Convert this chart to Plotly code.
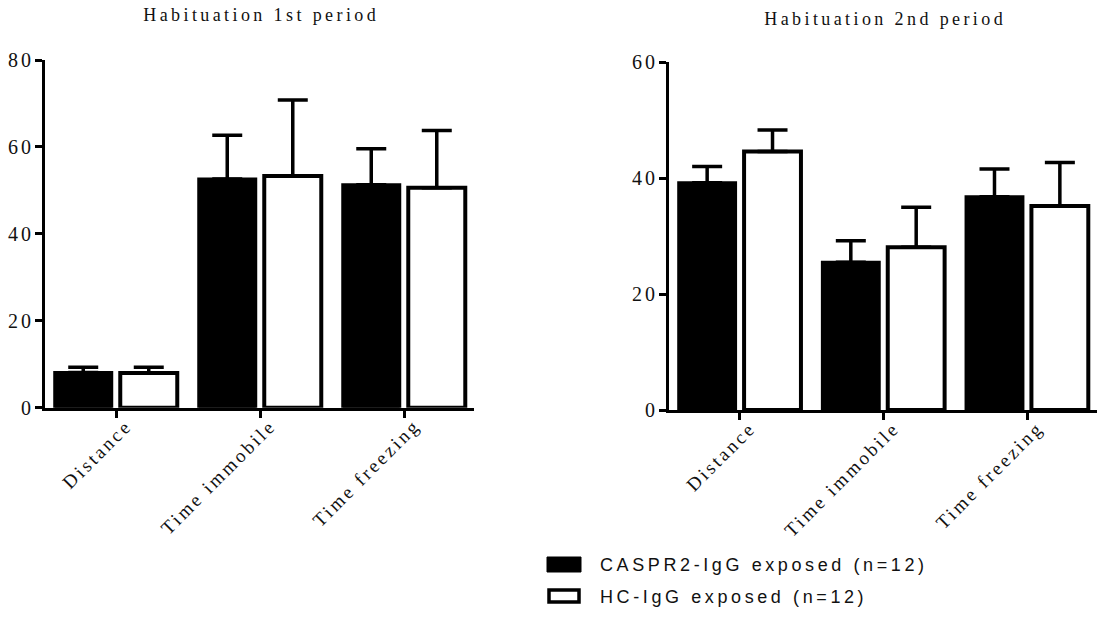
import plotly.graph_objects as go

categories = ["Distance", "Time immobile", "Time freezing"]

# Habituation 1st period
p1_caspr_mean = [8.1, 52.6, 51.3]
p1_caspr_sem = [1.2, 10.1, 8.3]
p1_hc_mean = [8.0, 53.3, 50.6]
p1_hc_sem = [1.3, 17.5, 13.2]

# Habituation 2nd period
p2_caspr_mean = [39.2, 25.5, 36.8]
p2_caspr_sem = [2.8, 3.7, 4.8]
p2_hc_mean = [44.6, 28.1, 35.2]
p2_hc_sem = [3.7, 6.9, 7.5]

series_names = ["CASPR2-IgG exposed (n=12)", "HC-IgG exposed (n=12)"]
titles = ["Habituation 1st period", "Habituation 2nd period"]
y1_ticks = [0, 20, 40, 60, 80]
y2_ticks = [0, 20, 40, 60]

W, H = 1102, 617
fig = go.Figure()

def add_pair(xa, ya, cm, cs, hm, hs):
    fig.add_trace(go.Bar(
        x=categories, y=cm, xaxis=xa, yaxis=ya, name=series_names[0],
        marker=dict(color="black", line=dict(color="black", width=3)),
        error_y=dict(type="data", symmetric=False, array=cs, arrayminus=[0] * len(cs),
                     color="black", thickness=3.5, width=15),
        showlegend=False))
    fig.add_trace(go.Bar(
        x=categories, y=hm, xaxis=xa, yaxis=ya, name=series_names[1],
        marker=dict(color="white", line=dict(color="black", width=4)),
        error_y=dict(type="data", symmetric=False, array=hs, arrayminus=[0] * len(hs),
                     color="black", thickness=3.5, width=15),
        showlegend=False))

add_pair("x", "y", p1_caspr_mean, p1_caspr_sem, p1_hc_mean, p1_hc_sem)
add_pair("x2", "y2", p2_caspr_mean, p2_caspr_sem, p2_hc_mean, p2_hc_sem)

serif = "Liberation Serif"
ytickfont = dict(family=serif, size=20, color="#111111")
xtickfont = dict(family=serif, size=19, color="#111111")
xcommon = dict(type="category", range=[-0.493, 2.486], showline=True, linecolor="black",
               linewidth=3, ticks="outside", ticklen=7, tickwidth=3, tickcolor="black",
               tickangle=-45, tickfont=xtickfont, showgrid=False, zeroline=False,
               fixedrange=True, automargin=False)
ycommon = dict(showline=True, linecolor="black", linewidth=3, ticks="outside", ticklen=7,
               tickwidth=3, tickcolor="black", tickfont=ytickfont, showgrid=False,
               zeroline=False, fixedrange=True, automargin=False)

fig.update_layout(
    width=W, height=H, autosize=False,
    margin=dict(l=0, r=0, t=0, b=0, pad=0),
    paper_bgcolor="white", plot_bgcolor="white",
    barmode="group", bargap=0.09, bargroupgap=0.13,
    xaxis=dict(domain=[45 / W, 474 / W], anchor="y", **xcommon),
    yaxis=dict(domain=[1 - 407.7 / H, 1 - 60 / H], anchor="x", range=[0, 80],
               tickvals=y1_ticks, **ycommon),
    xaxis2=dict(domain=[669 / W, 1097 / W], anchor="y2", **xcommon),
    yaxis2=dict(domain=[1 - 410 / H, 1 - 62.3 / H], anchor="x2", range=[0, 60],
                tickvals=y2_ticks, **ycommon),
    showlegend=False,
)

# titles
titlefont = dict(family=serif, size=18, color="#111111")
fig.add_annotation(text=titles[0], x=(45 + 474) / 2 / W, y=1 - 15 / H, xref="paper", yref="paper",
                   showarrow=False, font=titlefont, xanchor="center", yanchor="middle")
fig.add_annotation(text=titles[1], x=(669 + 1097) / 2 / W, y=1 - 19 / H, xref="paper", yref="paper",
                   showarrow=False, font=titlefont, xanchor="center", yanchor="middle")

# custom legend
fig.add_shape(type="rect", xref="paper", yref="paper",
              x0=547 / W, x1=581 / W, y0=1 - 572 / H, y1=1 - 557 / H,
              fillcolor="black", line=dict(color="black", width=1))
fig.add_shape(type="rect", xref="paper", yref="paper",
              x0=549 / W, x1=579 / W, y0=1 - 602 / H, y1=1 - 590 / H,
              fillcolor="white", line=dict(color="black", width=3.5))
legfont = dict(family="Liberation Sans", size=18, color="#111111")
fig.add_annotation(text=series_names[0], x=598 / W, y=1 - 565 / H, xref="paper", yref="paper",
                   showarrow=False, font=legfont, xanchor="left", yanchor="middle")
fig.add_annotation(text=series_names[1], x=598 / W, y=1 - 597 / H, xref="paper", yref="paper",
                   showarrow=False, font=legfont, xanchor="left", yanchor="middle")

post = """
document.body.style.margin = '0';
document.body.style.overflow = 'hidden';
var gd = document.getElementById('{plot_id}');
function spaceText(t, s, mode, extra) {
  var b0 = t.getBBox();
  t.style.letterSpacing = s + 'px';
  var b1 = t.getBBox();
  var d;
  if (mode === 'left') { d = b0.x - b1.x; }
  else if (mode === 'right') { d = (b0.x + b0.width) - (b1.x + b1.width) + s; }
  else { d = (b0.x + b0.width / 2) - (b1.x + b1.width / 2) + s / 2; }
  var x = parseFloat(t.getAttribute('x') || '0');
  t.setAttribute('x', x + d + (extra || 0));
}
gd.querySelectorAll('g.xtick text, g.x2tick text').forEach(function (t) {
  spaceText(t, 2.8, 'right', 12);
});
gd.querySelectorAll('g.ytick text, g.y2tick text').forEach(function (t) {
  spaceText(t, 3, 'right', 0);
});
var ann = gd.querySelectorAll('text.annotation-text');
ann.forEach(function (t, i) {
  if (i < 2) { spaceText(t, 3.4, 'center', 0); } else { spaceText(t, 3.6, 'left', 0); }
});
"""

fig.write_html("out.html", post_script=post, config={"displayModeBar": False})
